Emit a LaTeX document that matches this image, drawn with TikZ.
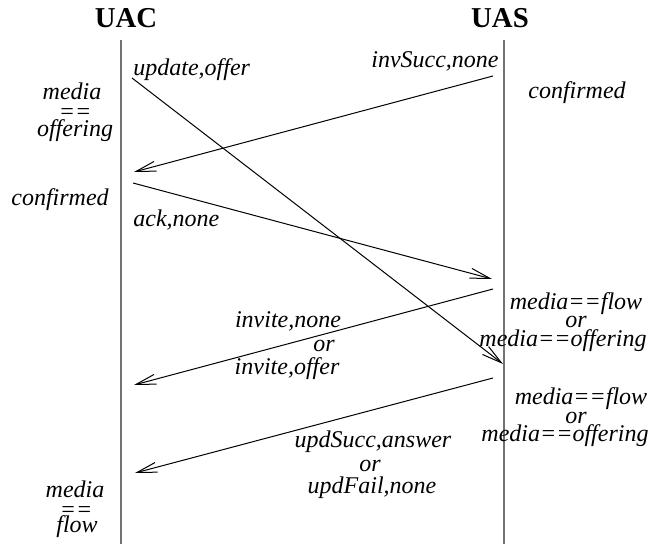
\documentclass[tikz,border=0pt]{standalone}
\usepackage{fontspec}
\setmainfont{Liberation Serif}[ItalicFont={Liberation Serif Italic}, BoldFont={Liberation Serif Bold}]
\usetikzlibrary{arrows.meta}

\begin{document}
\begin{tikzpicture}[x=0.5pt, y=-0.5pt,
        lifeline/.style={draw=black!55, line width=1pt},
        msg/.style={-{Straight Barb[length=10pt,width=5pt]}, line width=0.5pt},
        party/.style={font=\fontsize{14.4}{17}\selectfont\bfseries, anchor=base, inner sep=0pt},
        txt/.style={font=\fontsize{12}{14}\selectfont\itshape, anchor=base, inner sep=0pt}]
        \useasboundingbox (0,0) rectangle (663,544);
        % parties and their lifelines
        \node[party] (uac) at (126,28) {UAC};
        \node[party] (uas) at (500,28) {UAS};
        \coordinate (uacTop) at (121,40);
        \coordinate (uacBot) at (121,544);
        \coordinate (uasTop) at (504,40);
        \coordinate (uasBot) at (504,544);
        \draw[lifeline] (uacTop) -- (uacBot);
        \draw[lifeline] (uasTop) -- (uasBot);
        % messages
        \coordinate (updFrom) at (132,78);
        \coordinate (updTo) at (503,364);
        \coordinate (invSuccFrom) at (493,76);
        \coordinate (invSuccTo) at (134,172);
        \coordinate (ackFrom) at (133,183);
        \coordinate (ackTo) at (492,279);
        \coordinate (inviteFrom) at (493,289);
        \coordinate (inviteTo) at (134,385);
        \coordinate (updAnsFrom) at (493,378);
        \coordinate (updAnsTo) at (135,473);
        \draw[msg] (updFrom) -- (updTo);
        \draw[msg] (invSuccFrom) -- (invSuccTo);
        \draw[msg] (ackFrom) -- (ackTo);
        \draw[msg] (inviteFrom) -- (inviteTo);
        \draw[msg] (updAnsFrom) -- (updAnsTo);
        \node[txt, anchor=base west] (updLbl) at (133,76) {update,offer};
        \node[txt, anchor=base east] (invSuccLbl) at (499,68) {invSucc,none};
        \node[txt, anchor=base west] (ackLbl) at (133,227) {ack,none};
        \node[txt] (inviteLbl1) at (288,328) {invite,none};
        \node[txt] (inviteLbl2) at (324,352) {or};
        \node[txt] (inviteLbl3) at (287,375) {invite,offer};
        \node[txt] (updAnsLbl1) at (373,448) {updSucc,answer};
        \node[txt] (updAnsLbl2) at (370,472) {or};
        \node[txt] (updAnsLbl3) at (372,493) {updFail,none};
        % UAC states
        \node[txt] (uacSt1a) at (72,100) {media};
        \node[txt] (uacSt1b) at (75,120) {==};
        \node[txt] (uacSt1c) at (75,137) {offering};
        \node[txt] (uacSt2) at (60,206) {confirmed};
        \node[txt] (uacSt3a) at (75,497) {media};
        \node[txt] (uacSt3b) at (76,517) {==};
        \node[txt] (uacSt3c) at (77,532) {flow};
        % UAS states
        \node[txt, anchor=base west] (uasSt1) at (528,99) {confirmed};
        \node[txt] (uasSt2a) at (576,310) {media==flow};
        \node[txt] (uasSt2b) at (576,328) {or};
        \node[txt] (uasSt2c) at (563,347) {media==offering};
        \node[txt] (uasSt3a) at (581,405) {media==flow};
        \node[txt] (uasSt3b) at (576,423) {or};
        \node[txt] (uasSt3c) at (565,442) {media==offering};
    \end{tikzpicture}
\end{document}
